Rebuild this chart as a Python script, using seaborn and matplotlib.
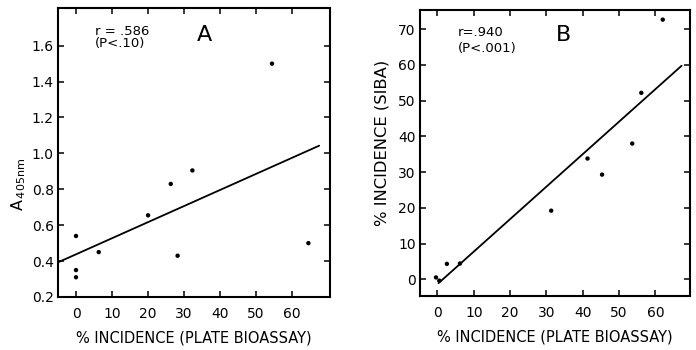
import matplotlib
matplotlib.use("Agg")
import matplotlib.pyplot as plt
import seaborn as sns
import pandas as pd

sns.set_theme(style="white")
plt.rcParams['font.family'] = ['DejaVu Sans']
for k in ["text.color", "axes.labelcolor", "xtick.color", "ytick.color", "axes.edgecolor"]:
    plt.rcParams[k] = "black"

# Panel A data
a_x = [0, 0, 0, 6.3, 20, 26.3, 28.2, 32.3, 54.4, 64.5]
a_y = [0.54, 0.35, 0.31, 0.45, 0.655, 0.83, 0.43, 0.905, 1.50, 0.50]
a_fit_x = [-5, 67.5]
a_fit_y = [0.393, 1.043]

# Panel B data
b_x = [-0.4, 0.5, 2.6, 6.2, 31.3, 41.3, 45.3, 53.6, 56.1, 62.0]
b_y = [0.5, -0.4, 4.3, 4.4, 19.2, 33.8, 29.3, 38.0, 52.2, 72.7]
b_fit_x = [0.3, 67.2]
b_fit_y = [-1.1, 59.8]

x_ticks = [0, 10, 20, 30, 40, 50, 60]
a_yticks = [0.2, 0.4, 0.6, 0.8, 1.0, 1.2, 1.4, 1.6]
a_yticklabels = ["0.2", "0.4", "0.6", "0.8", "1.0", "1.2", "1.4", "1.6"]
b_yticks = [0, 10, 20, 30, 40, 50, 60, 70]

dfa = pd.DataFrame({"x": a_x, "y": a_y})
dfa_fit = pd.DataFrame({"x": a_fit_x, "y": a_fit_y})
dfb = pd.DataFrame({"x": b_x, "y": b_y})
dfb_fit = pd.DataFrame({"x": b_fit_x, "y": b_fit_y})

fig = plt.figure(figsize=(6.96, 3.5), dpi=100)
axA = fig.add_axes([58/696, 53/350, 272/696, 289/350])
axB = fig.add_axes([420/696, 54/350, 270/696, 286/350])

for ax, df, fit in [(axA, dfa, dfa_fit), (axB, dfb, dfb_fit)]:
    sns.scatterplot(data=df, x="x", y="y", ax=ax, color="black", s=10,
                    edgecolor="none", zorder=3)
    sns.lineplot(data=fit, x="x", y="y", ax=ax, color="black", lw=1.3)
    for sp in ax.spines.values():
        sp.set_linewidth(1.5)
        sp.set_color("black")
    ax.tick_params(direction="in", length=4, width=1.1, colors="black",
                   labelsize=10, top=True, right=True, bottom=True, left=True)
    ax.tick_params(axis="x", pad=7)
    ax.tick_params(axis="y", pad=3)
    ax.set_xticks(x_ticks)
    ax.set_xticklabels([str(t) for t in x_ticks])
    ax.set_xlabel("% INCIDENCE (PLATE BIOASSAY)", fontsize=10.5, labelpad=7,
                  color="black")

axA.set_xlim(-5, 70.5)
axA.set_ylim(0.2, 1.81)
axA.set_yticks(a_yticks)
axA.set_yticklabels(a_yticklabels)
axA.set_ylabel(r"A$_{\,405\mathrm{nm}}$", fontsize=11.5, labelpad=3,
               color="black", y=0.39)
axA.text(0.136, 0.917, "r = .586", transform=axA.transAxes,
         fontsize=9.5, ha="left", va="center")
axA.text(0.136, 0.877, "(P<.10)", transform=axA.transAxes,
         fontsize=9.5, ha="left", va="center")
axA.text(0.537, 0.907, "A", transform=axA.transAxes, fontsize=16,
         ha="center", va="center")

axB.set_xlim(-4.8, 69.5)
axB.set_ylim(-4.7, 75.4)
axB.set_yticks(b_yticks)
axB.set_yticklabels([str(t) for t in b_yticks])
axB.set_ylabel("% INCIDENCE (SIBA)", fontsize=11.8, labelpad=6, color="black",
               y=0.535)
axB.text(0.141, 0.921, "r=.940", transform=axB.transAxes,
         fontsize=9.5, ha="left", va="center")
axB.text(0.141, 0.865, "(P<.001)", transform=axB.transAxes,
         fontsize=9.5, ha="left", va="center")
axB.text(0.53, 0.913, "B", transform=axB.transAxes, fontsize=16,
         ha="center", va="center")

fig.savefig("out.png", dpi=100, facecolor="white")
